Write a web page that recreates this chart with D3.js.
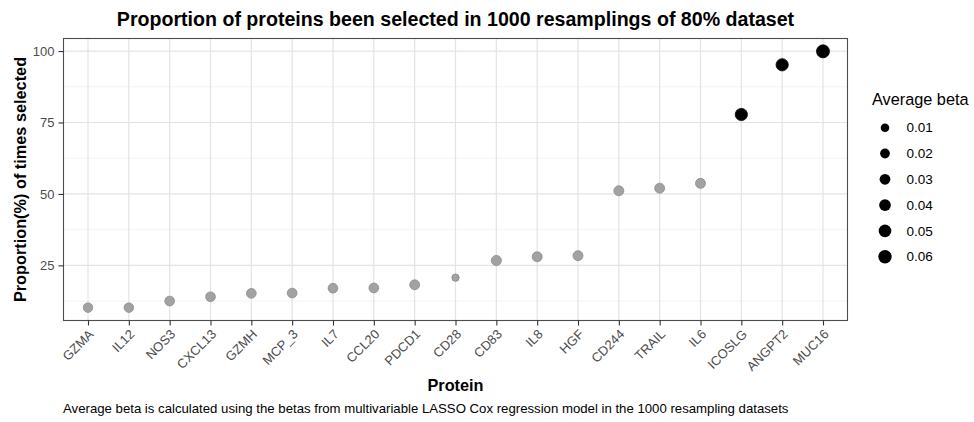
<!DOCTYPE html>
<html><head><meta charset="utf-8">
<script src="https://cdn.jsdelivr.net/npm/d3@7"></script>
<style>body{margin:0;background:#fff;} svg{display:block;font-family:"Liberation Sans",Arial,sans-serif;}</style>
</head><body>
<svg id="chart" width="974" height="422"></svg>
<script>
const proteins = ["GZMA","IL12","NOS3","CXCL13","GZMH","MCP_3","IL7","CCL20","PDCD1","CD28","CD83","IL8","HGF","CD244","TRAIL","IL6","ICOSLG","ANGPT2","MUC16"];
const proportions = [10.2,10.2,12.5,14.0,15.2,15.3,17.0,17.1,18.2,20.7,26.7,28.0,28.4,51.1,52.0,53.7,77.8,95.2,99.9];
const avgBeta = [0.018,0.018,0.02,0.02,0.02,0.02,0.02,0.02,0.021,0.001,0.024,0.022,0.022,0.022,0.022,0.022,0.046,0.046,0.055];
const highlight = [0,0,0,0,0,0,0,0,0,0,0,0,0,0,0,0,1,1,1];
const yTicks = [25,50,75,100];
const yMinor = [12.5,37.5,62.5,87.5];
const legendBreaks = [0.01,0.02,0.03,0.04,0.05,0.06];

const FONT = "Liberation Sans, Arial, sans-serif";
const svg = d3.select("#chart");
const L = 63.5, R = 847.5, T = 38.5, B = 320.5;

const x = d3.scalePoint().domain(proteins).range([L, R]).padding(0.6);
const y = d3.scaleLinear().domain([5.7, 104.4]).range([B, T]);
const area = d3.scaleLinear().domain([0, 0.06]).range([13.2, 44.9]);
const rad = b => Math.sqrt(area(b));

// grid
const g = svg.append("g");
g.selectAll(".minor").data(yMinor).join("line")
  .attr("x1", L).attr("x2", R).attr("y1", d => y(d)).attr("y2", d => y(d))
  .attr("stroke", "#ebebeb").attr("stroke-width", 0.6);
g.selectAll(".major").data(yTicks).join("line")
  .attr("x1", L).attr("x2", R).attr("y1", d => y(d)).attr("y2", d => y(d))
  .attr("stroke", "#e3e3e3").attr("stroke-width", 1.2);
g.selectAll(".vmajor").data(proteins).join("line")
  .attr("x1", d => x(d)).attr("x2", d => x(d)).attr("y1", T).attr("y2", B)
  .attr("stroke", "#e3e3e3").attr("stroke-width", 1.2);

// points
const data = proteins.map((p, i) => ({p, v: proportions[i], b: avgBeta[i], h: highlight[i]}));
svg.append("g").selectAll("circle").data(data).join("circle")
  .attr("cx", d => x(d.p)).attr("cy", d => y(d.v)).attr("r", d => rad(d.b))
  .attr("fill", d => d.h ? "#000" : "#a2a2a2")
  .attr("stroke", d => d.h ? "#000" : "#8c8c8c").attr("stroke-width", 0.8);

// panel border
svg.append("rect").attr("x", L).attr("y", T).attr("width", R - L).attr("height", B - T)
  .attr("fill", "none").attr("stroke", "#4d4d4d").attr("stroke-width", 1.1);

// axes
const yAxis = svg.append("g").attr("transform", `translate(${L},0)`)
  .call(d3.axisLeft(y).tickValues(yTicks).tickSize(5).tickPadding(4));
yAxis.select(".domain").remove();
yAxis.selectAll("line").attr("stroke", "#333").attr("stroke-width", 1.1);
yAxis.selectAll("text").attr("fill", "#4d4d4d").style("font-size", "13px")
  .style("font-family", FONT);

const xAxis = svg.append("g").attr("transform", `translate(0,${B})`)
  .call(d3.axisBottom(x).tickSize(5).tickPadding(3));
xAxis.select(".domain").remove();
xAxis.selectAll("line").attr("stroke", "#333").attr("stroke-width", 1.1);
xAxis.selectAll("text").attr("fill", "#4d4d4d").style("font-size", "13px")
  .style("font-family", FONT)
  .attr("text-anchor", "end").attr("dy", null).attr("y", 0)
  .attr("transform", "translate(6,14.5) rotate(-45)");

// titles
svg.append("text").attr("x", (L + R) / 2).attr("y", 26).attr("text-anchor", "middle")
  .style("font-size", "19.6px").style("font-weight", "bold").attr("fill", "#000")
  .text("Proportion of proteins been selected in 1000 resamplings of 80% dataset");
svg.append("text").attr("x", (L + R) / 2).attr("y", 391).attr("text-anchor", "middle")
  .style("font-size", "16.3px").style("font-weight", "bold")
  .text("Protein");
svg.append("text").attr("transform", `translate(26,${(T + B) / 2}) rotate(-90)`).attr("text-anchor", "middle")
  .style("font-size", "16.3px").style("font-weight", "bold")
  .text("Proportion(%) of times selected");
svg.append("text").attr("x", 63).attr("y", 413)
  .style("font-size", "13.2px").attr("fill", "#000")
  .text("Average beta is calculated using the betas from multivariable LASSO Cox regression model in the 1000 resampling datasets");

// legend
const lg = svg.append("g");
lg.append("text").attr("x", 872).attr("y", 105).style("font-size", "16.3px").text("Average beta");
const rowY = d3.scaleLinear().domain([0.01, 0.06]).range([127.7, 256.7]);
lg.selectAll("circle").data(legendBreaks).join("circle")
  .attr("cx", 885).attr("cy", d => rowY(d)).attr("r", d => rad(d)).attr("fill", "#000");
lg.selectAll(".lt").data(legendBreaks).join("text")
  .attr("x", 906.5).attr("y", d => rowY(d) + 4.7).style("font-size", "13.5px").attr("fill", "#000")
  .text(d => d3.format(".2f")(d));
</script>
</body></html>
